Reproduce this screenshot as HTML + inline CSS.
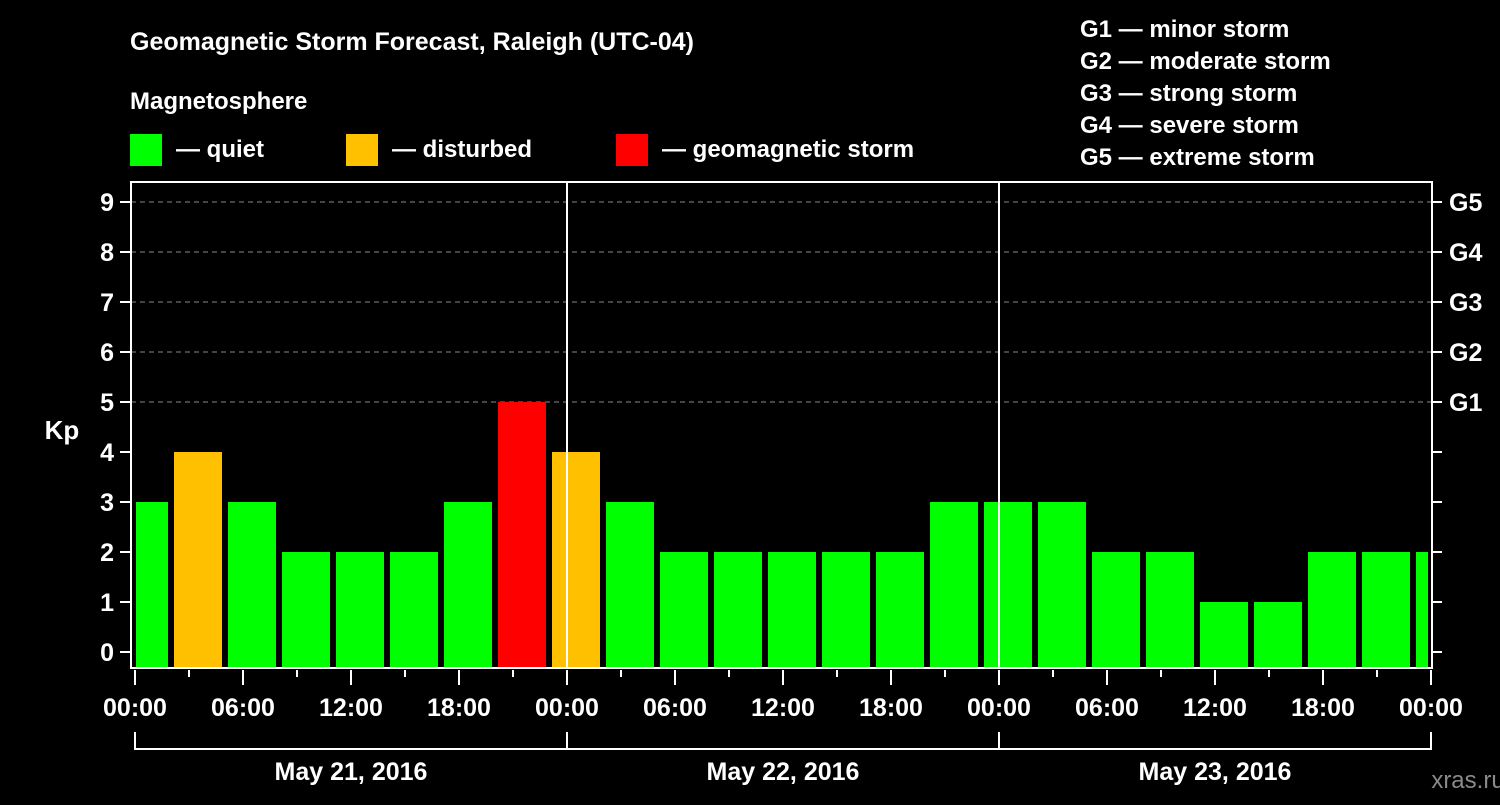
<!DOCTYPE html>
<html><head><meta charset="utf-8"><style>
body{margin:0;background:#000;}
svg text{font-family:"Liberation Sans",Arial,sans-serif;font-weight:bold;fill:#fff;}
</style></head><body>
<svg width="1500" height="800" viewBox="0 0 1500 800">
<rect x="0" y="0" width="1500" height="800" fill="#000"/>
<text x="130" y="50" font-size="25">Geomagnetic Storm Forecast, Raleigh (UTC-04)</text>
<text x="130" y="109" font-size="24">Magnetosphere</text>
<g>
<rect x="130" y="134" width="32" height="32" fill="#00ff00"/>
<text x="176" y="157" font-size="24">— quiet</text>
<rect x="346" y="134" width="32" height="32" fill="#ffc000"/>
<text x="392" y="157" font-size="24">— disturbed</text>
<rect x="616" y="134" width="32" height="32" fill="#ff0000"/>
<text x="662" y="157" font-size="24">— geomagnetic storm</text>
</g>
<g font-size="24">
<text x="1080" y="37">G1 — minor storm</text>
<text x="1080" y="69">G2 — moderate storm</text>
<text x="1080" y="101">G3 — strong storm</text>
<text x="1080" y="133">G4 — severe storm</text>
<text x="1080" y="165">G5 — extreme storm</text>
</g>
<g id="plot"></g>
<text x="62" y="439" font-size="26" text-anchor="middle">Kp</text>
<text x="1468" y="788" font-size="24" fill="#888" style="fill:#8a8a8a;font-weight:normal" text-anchor="middle">xras.ru</text>
</svg>
<script>
const kpValues=[3,4,3,2,2,2,3,5,4,3,2,2,2,2,2,3,3,3,2,2,1,1,2,2,2];
const yTicks=[0,1,2,3,4,5,6,7,8,9];
const gLabels=["G1","G2","G3","G4","G5"];
const gLevels=[5,6,7,8,9];
const xTickLabels=["00:00","06:00","12:00","18:00","00:00","06:00","12:00","18:00","00:00","06:00","12:00","18:00","00:00"];
const dayLabels=["May 21, 2016","May 22, 2016","May 23, 2016"];
const barStartHour=-1;
const L=131,R=1432,T=182,B=668,X0=135,PXH=18;
const NS="http://www.w3.org/2000/svg";
const g=document.getElementById('plot');
function y(v){return 652-50*v;}
function x(h){return X0+h*PXH;}
function mk(tag,attrs){const e=document.createElementNS(NS,tag);for(const k in attrs)e.setAttribute(k,attrs[k]);g.appendChild(e);return e;}
// grid
gLevels.forEach(v=>{const l=mk('line',{x1:L,x2:R,y1:y(v),y2:y(v),stroke:'#888','stroke-dasharray':'5,4','stroke-width':1});

});
// bars
kpValues.forEach((v,i)=>{let x1=x(barStartHour+3*i)+3,x2=x1+48;x1=Math.max(x1,L+5);x2=Math.min(x2,R-4);
const c=v>=5?'#ff0000':(v>=4?'#ffc000':'#00ff00');
const r=mk('rect',{x:x1,y:y(v),width:x2-x1,height:B-1-y(v),fill:c});

});
// day separators
[1,2].forEach(d=>{const l=mk('line',{x1:x(24*d),x2:x(24*d),y1:T,y2:B,stroke:'#fff','stroke-width':2});

});
// frame
const f=mk('rect',{x:L,y:T,width:R-L,height:B-T,fill:'none',stroke:'#fff','stroke-width':2});


// y ticks
yTicks.forEach(v=>{
const t1=mk('line',{x1:120,x2:L,y1:y(v),y2:y(v),stroke:'#fff','stroke-width':2});


const t2=mk('line',{x1:R,x2:1442,y1:y(v),y2:y(v),stroke:'#fff','stroke-width':2});


const tx=mk('text',{x:114,y:y(v)+9,'font-size':25,'text-anchor':'end'});tx.textContent=v;

});
gLabels.forEach((s,i)=>{const tx=mk('text',{x:1449,y:y(gLevels[i])+9,'font-size':25});tx.textContent=s;

});
// x ticks
for(let h=0;h<=72;h+=3){const major=h%6===0;
const t=mk('line',{x1:x(h),x2:x(h),y1:B+2,y2:major?B+17:B+9,stroke:'#fff','stroke-width':2});

}
xTickLabels.forEach((s,i)=>{const tx=mk('text',{x:x(6*i),y:716,'font-size':25,'text-anchor':'middle'});tx.textContent=s;

});
// day bracket
const bl=mk('line',{x1:x(0),x2:x(72),y1:749,y2:749,stroke:'#fff','stroke-width':2});


[0,1,2,3].forEach(d=>{const l=mk('line',{x1:x(24*d),x2:x(24*d),y1:732,y2:750,stroke:'#fff','stroke-width':2});

});
dayLabels.forEach((s,i)=>{const tx=mk('text',{x:x(24*i+12),y:780,'font-size':25,'text-anchor':'middle'});tx.textContent=s;

});
</script>
</body></html>
